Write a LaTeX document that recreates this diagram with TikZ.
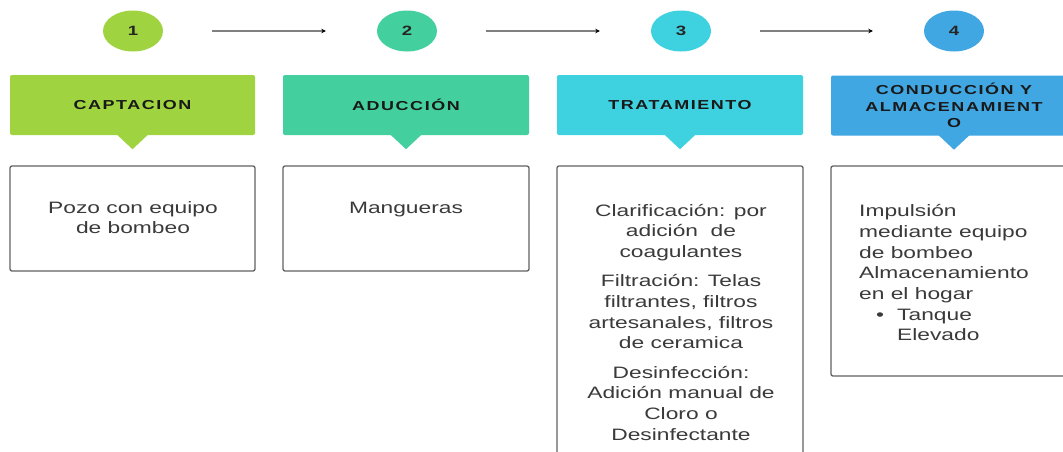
\documentclass[tikz,border=0pt]{standalone}
\usepackage{fontspec}
\setmainfont{Liberation Sans}[FakeStretch=1.38]
\newfontfamily\hfont{Liberation Sans}[FakeStretch=1.38,LetterSpace=12]
\usetikzlibrary{shapes.geometric,arrows.meta}
\definecolor{cA}{HTML}{9FD340}
\definecolor{cB}{HTML}{44CF9F}
\definecolor{cC}{HTML}{3ED2E0}
\definecolor{cD}{HTML}{40A7E2}
\definecolor{txt}{HTML}{3A3A3A}
\tikzset{
  num/.style={ellipse, minimum width=60pt, minimum height=41pt, inner sep=0pt,
    font=\hfont\bfseries\fontsize{13.5}{15}\selectfont, text=black!85},
  head/.style={rectangle, rounded corners=2pt, minimum width=246pt, minimum height=60pt,
    inner sep=0pt, align=center, font=\hfont\bfseries\fontsize{13}{16.7}\selectfont, text=black!90},
  cbox/.style={draw=black!62, line width=1.3pt, rounded corners=2pt, fill=white,
    minimum width=245pt, inner sep=0pt},
  ctext/.style={inner sep=0pt, anchor=north, align=center, text=txt,
    font=\fontsize{16.5}{20.7}\selectfont},
  arr/.style={draw=black!50, line width=1.3pt, -{Stealth[length=4.5pt,width=4.5pt,color=black]},
    shorten <=49pt, shorten >=51pt}
}
\newcommand{\fs}{\rule{0pt}{16pt}}
\begin{document}
\begin{tikzpicture}[x=1pt,y=-1pt]
\clip (0,0) rectangle (1063,451);
\fill[white] (0,0) rectangle (1063,451);

% numbers
\node[num, fill=cA] (n1) at (133,31) {1};
\node[num, fill=cB] (n2) at (407,31) {2};
\node[num, fill=cC] (n3) at (681,31) {3};
\node[num, fill=cD] (n4) at (954,31) {4};
\draw[arr] (n1.east) -- (n2.west);
\draw[arr] (n2.east) -- (n3.west);
\draw[arr] (n3.east) -- (n4.west);

% headers
\node[head, fill=cA, minimum width=245pt] (h1) at (132.5,105) {CAPTACION};
\node[head, fill=cB] (h2) at (406,105) {ADUCCIÓN};
\node[head, fill=cC] (h3) at (680,105) {TRATAMIENTO};
\node[head, fill=cD] (h4) at (954,105.5) {CONDUCCIÓN Y\\ALMACENAMIENT\\O};
\foreach \h/\c in {h1/cA,h2/cB,h3/cC,h4/cD}{
  \fill[\c] ([xshift=-16pt,yshift=1pt]\h.south) -- ([xshift=16pt,yshift=1pt]\h.south)
     -- ([yshift=-14pt]\h.south) -- cycle;
}

% content boxes
\node[cbox, minimum height=105pt] (b1) at (132.5,218.5) {};
\node[cbox, minimum height=105pt, minimum width=246pt] (b2) at (406,218.5) {};
\node[cbox, minimum height=304pt, minimum width=246pt] (b3) at (680,318) {};
\node[cbox, minimum height=210pt, minimum width=246pt] (b4) at (954,271) {};

\node[ctext] (t1) at (133,197) {\fs Pozo con equipo\\de bombeo};
\node[ctext] (t2) at (406,197) {\fs Mangueras};
\node[ctext] (t3) at (681,200) {\fs Clarificación: por\\adición\ \ de\\coagulantes\\[8.5pt]
  Filtración: Telas\\filtrantes, filtros\\artesanales, filtros\\de ceramica\\[8.5pt]
  Desinfección:\\Adición manual de\\Cloro o\\Desinfectante};
\node[ctext, anchor=north west, align=left] (t4) at (859,200.5) {\fs Impulsión\\mediante equipo\\de bombeo\\Almacenamiento\\en el hogar\\
  \hspace*{17pt}\makebox[21pt][l]{•}Tanque\\\hspace*{38pt}Elevado};
\end{tikzpicture}
\end{document}
